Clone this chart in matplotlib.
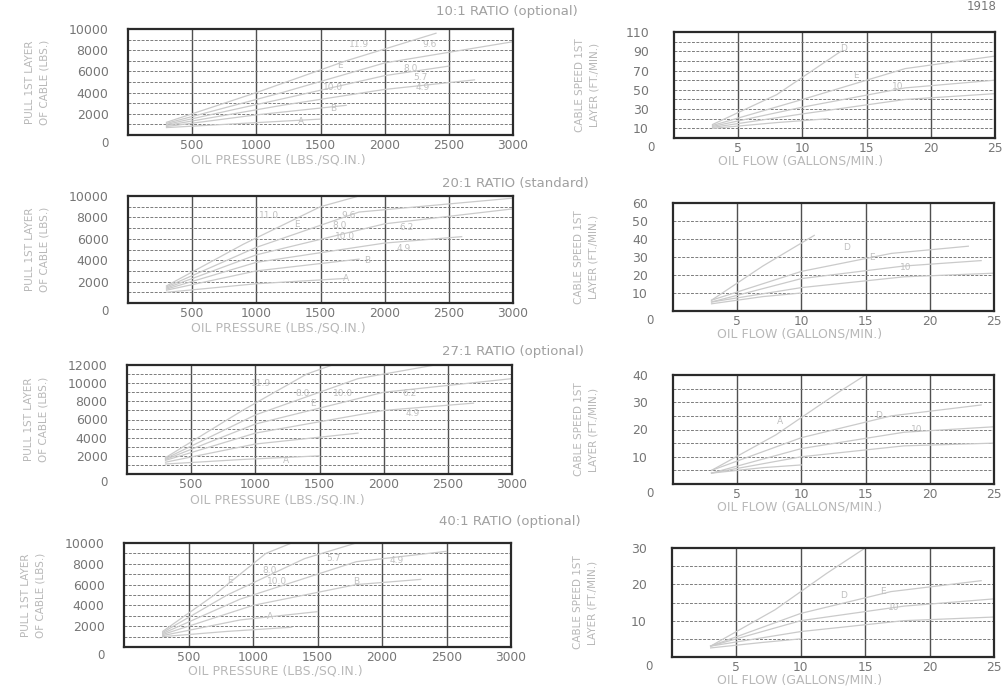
import matplotlib
matplotlib.use("Agg")
import matplotlib.pyplot as plt

# ---------------- data ----------------
ratios = ["10:1 RATIO (optional)", "20:1 RATIO (standard)",
          "27:1 RATIO (optional)", "40:1 RATIO (optional)"]

pressure_ticks = [500, 1000, 1500, 2000, 2500, 3000]
flow_ticks = [5, 10, 15, 20, 25]

pull_ymax = [10000, 10000, 12000, 10000]
pull_yticks = [[2000, 4000, 6000, 8000, 10000],
               [2000, 4000, 6000, 8000, 10000],
               [2000, 4000, 6000, 8000, 10000, 12000],
               [2000, 4000, 6000, 8000, 10000]]
speed_ymax = [110, 60, 40, 30]
speed_yticks = [[10, 30, 50, 70, 90, 110],
                [10, 20, 30, 40, 50, 60],
                [10, 20, 30, 40],
                [10, 20, 30]]
speed_ystep = [10, 10, 5, 5]

# pull curves (oil pressure, pull) per ratio
pull_curves = [
    [([300, 1000, 1700, 2400], [1200, 4000, 7000, 9600]),
     ([300, 1200, 2000, 3000], [1100, 4000, 6800, 8800]),
     ([300, 1200, 2000, 2500], [1000, 3400, 5600, 6500]),
     ([300, 1200, 2000, 2700], [900, 2800, 4300, 5200]),
     ([300, 1000, 1700], [800, 1900, 2800]),
     ([300, 900, 1500], [700, 1100, 1500])],
    [([300, 900, 1500, 1800], [1600, 5500, 9000, 10000]),
     ([300, 1000, 1800, 3000], [1500, 5200, 8500, 9800]),
     ([300, 1000, 2000, 3000], [1400, 4500, 7400, 8800]),
     ([300, 1000, 2000, 2600], [1300, 3800, 5600, 6200]),
     ([300, 1000, 1800], [1200, 3000, 4100]),
     ([300, 1000, 1700], [1000, 1800, 2300])],
    [([300, 900, 1400, 1600], [1800, 7000, 11000, 12000]),
     ([300, 1000, 1800, 2400], [1700, 6500, 10500, 12000]),
     ([300, 1000, 2000, 3000], [1600, 5500, 9000, 10500]),
     ([300, 1000, 2000, 2700], [1500, 4500, 7000, 7800]),
     ([300, 1000, 1800], [1300, 3300, 4500]),
     ([300, 900, 1500], [1100, 1600, 2000])],
    [([300, 700, 1100, 1300], [1500, 5000, 9000, 10000]),
     ([300, 800, 1400, 1800], [1400, 5000, 8500, 10000]),
     ([300, 900, 1800, 2500], [1300, 4600, 8200, 9200]),
     ([300, 1000, 1800, 2300], [1200, 4000, 6000, 6500]),
     ([300, 900, 1500], [1100, 2600, 3400]),
     ([300, 800, 1300], [1000, 1500, 1900])],
]
pull_notes = [
    [("11.9", 1800, 8500), ("9.6", 2350, 8500), ("8.0", 2200, 6300),
     ("5.7", 2280, 5400), ("4.9", 2300, 4500), ("10.0", 1600, 4500),
     ("E", 1650, 6600), ("B", 1600, 2500), ("A", 1350, 1300)],
    [("11.0", 1100, 8200), ("9.6", 1720, 8200), ("8.0", 1650, 7200),
     ("6.2", 2170, 7100), ("10.0", 1690, 6200), ("4.9", 2150, 5100),
     ("E", 1320, 7300), ("B", 1860, 4000), ("A", 1700, 2300)],
    [("11.9", 1045, 10000), ("8.0", 1370, 8900), ("10.0", 1680, 8900),
     ("6.2", 2200, 8900), ("4.9", 2230, 6700), ("E", 1450, 7800),
     ("A", 1240, 1540)],
    [("8.0", 1130, 7400), ("10.0", 1185, 6250), ("E", 820, 6400),
     ("5.7", 1620, 8550), ("4.9", 2115, 8360), ("B", 1800, 6250),
     ("A", 1130, 2900)],
]

# speed curves (oil flow, cable speed) per ratio
speed_curves = [
    [([3, 8, 13], [14, 45, 90]),
     ([3, 10, 18, 25], [13, 40, 72, 85]),
     ([3, 10, 18, 25], [12, 32, 52, 60]),
     ([3, 10, 18, 25], [11, 25, 40, 46]),
     ([3, 8, 12], [10, 16, 20])],
    [([3, 7, 11], [6, 25, 42]),
     ([3, 10, 17, 23], [6, 22, 32, 36]),
     ([3, 10, 18, 24], [5, 18, 25, 28]),
     ([3, 10, 18, 25], [5, 13, 19, 21]),
     ([3, 7, 10], [4, 8, 10])],
    [([3, 8, 13, 15], [5, 18, 34, 40]),
     ([3, 10, 17, 24], [5, 17, 25, 29]),
     ([3, 10, 18, 25], [4, 13, 19, 21]),
     ([3, 10, 18, 25], [4, 10, 14, 15]),
     ([3, 7, 10], [4, 6, 7])],
    [([3, 8, 12, 15], [3, 13, 23, 30]),
     ([3, 10, 17, 24], [3, 12, 18, 21]),
     ([3, 10, 18, 25], [3, 10, 14, 16]),
     ([3, 10, 18, 25], [3, 7, 10, 11]),
     ([3, 7, 10], [2.5, 4, 5])],
]
speed_notes = [
    [("D", 13.2, 93), ("E", 14.2, 65), ("10", 17.4, 53)],
    [("D", 13.5, 35), ("E", 15.5, 30), ("10", 18.1, 24)],
    [("A", 8.3, 22.8), ("D", 16, 25), ("10", 19, 20)],
    [("D", 13.3, 17), ("E", 16.4, 18), ("10", 17.2, 13.5)],
]

# ---------------- layout (pixel boxes) ----------------
W, H = 1008, 688
left_boxes = [(128, 29, 513, 135), (128, 196, 513, 303),
              (127, 365, 512, 474), (124, 543, 511, 647)]
right_boxes = [(674, 32, 995, 138), (673, 203, 994, 311),
               (673, 375, 994, 484), (672, 548, 994, 657)]
title_pos = [(507, 12), (515, 184), (513, 352), (510, 522)]

TICK_C = "#767676"
LABEL_C = "#b8b8b8"
TITLE_C = "#a0a0a0"
CURVE_C = "#cacaca"
NOTE_C = "#c0c0c0"

plt.rcParams['font.family'] = ['DejaVu Sans']
fig = plt.figure(figsize=(W / 100, H / 100), dpi=100)


def rect(b):
    x0, y0, x1, y1 = b
    return [x0 / W, 1 - y1 / H, (x1 - x0) / W, (y1 - y0) / H]


def style(ax, xlim, ylim, xt, yt, ygrid, ypad):
    ax.set_xlim(*xlim)
    ax.set_ylim(*ylim)
    ax.set_xticks(xt)
    ax.set_xticklabels([str(v) for v in xt])
    ax.set_yticks(yt)
    ax.set_yticklabels([str(v) for v in yt])
    ax.set_yticks(ygrid, minor=True)
    ax.tick_params(which='both', length=0)
    ax.tick_params(axis='x', pad=3, labelsize=8.8, labelcolor=TICK_C)
    ax.tick_params(axis='y', pad=ypad, labelsize=9, labelcolor=TICK_C)
    ax.grid(axis='x', which='major', color='#505050', lw=1.0, ls='-')
    ax.grid(axis='y', which='both', color='#7c7c7c', lw=0.7, ls=(0, (3, 1.5)))
    for s in ax.spines.values():
        s.set_color('#2a2a2a')
        s.set_linewidth(1.6)
    ax.set_axisbelow(True)


for i in range(4):
    # ---- pull chart ----
    ax = fig.add_axes(rect(left_boxes[i]))
    ymax = pull_ymax[i]
    style(ax, (0, 3000), (0, ymax), pressure_ticks, pull_yticks[i],
          list(range(1000, ymax, 1000)), 14)
    for xs, ys in pull_curves[i]:
        ax.plot(xs, ys, color=CURVE_C, lw=0.9)
    for t, x, y in pull_notes[i]:
        ax.text(x, y, t, color=NOTE_C, fontsize=6.5, ha='center', va='center')
    ax.text(-0.06, -0.08, "0", transform=ax.transAxes, color=TICK_C,
            fontsize=8.5, ha='center', va='center')
    ax.text(0.39, -0.235, "OIL PRESSURE (LBS./SQ.IN.)", transform=ax.transAxes,
            color=LABEL_C, fontsize=9, ha='center', va='center')
    ax.text(-0.235, 0.5, "PULL 1ST LAYER\nOF CABLE (LBS.)", transform=ax.transAxes,
            color=LABEL_C, fontsize=7.5, ha='center', va='center', rotation=90,
            linespacing=1.6)

    # ---- speed chart ----
    ax2 = fig.add_axes(rect(right_boxes[i]))
    smax = speed_ymax[i]
    step = speed_ystep[i]
    style(ax2, (0, 25), (0, smax), flow_ticks, speed_yticks[i],
          list(range(step, smax, step)), 18)
    for xs, ys in speed_curves[i]:
        ax2.plot(xs, ys, color=CURVE_C, lw=0.9)
    for t, x, y in speed_notes[i]:
        ax2.text(x, y, t, color=NOTE_C, fontsize=6.5, ha='center', va='center')
    ax2.text(-0.072, -0.085, "0", transform=ax2.transAxes, color=TICK_C,
             fontsize=8.5, ha='center', va='center')
    ax2.text(0.395, -0.215, "OIL FLOW (GALLONS/MIN.)", transform=ax2.transAxes,
             color=LABEL_C, fontsize=9, ha='center', va='center')
    ax2.text(-0.27, 0.5, "CABLE SPEED 1ST\nLAYER (FT./MIN.)", transform=ax2.transAxes,
             color=LABEL_C, fontsize=7.5, ha='center', va='center', rotation=90,
             linespacing=1.6)

    tx, ty = title_pos[i]
    fig.text(tx / W, 1 - ty / H, ratios[i], color=TITLE_C, fontsize=9.5,
             ha='center', va='center')

fig.text(982 / W, 1 - 7 / H, "1918", color=TICK_C, fontsize=8.5,
         ha='center', va='center')

fig.savefig("out.png", dpi=100, facecolor='white')
